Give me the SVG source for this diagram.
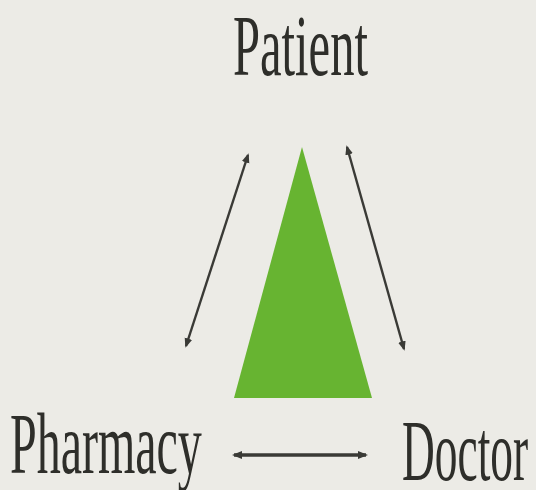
<svg xmlns="http://www.w3.org/2000/svg" width="536" height="490" viewBox="0 0 536 490">
<defs>
<style>
.lbl{font-family:"Liberation Serif","Times New Roman",serif;font-size:86px;fill:#2e2e2a}
.con{stroke:#3a3a36;stroke-width:2.4;fill:none;marker-start:url(#ah);marker-end:url(#ah)}
.thick{stroke-width:3.4;marker-start:url(#ah2);marker-end:url(#ah2)}
</style>
<marker id="ah" viewBox="0 0 10 10" refX="8" refY="5" markerWidth="4" markerHeight="4" orient="auto-start-reverse" markerUnits="strokeWidth">
<path d="M0,1 L10,5 L0,9 Z" fill="#3a3a36"/>
</marker>
<marker id="ah2" viewBox="0 0 10 10" refX="8" refY="5" markerWidth="3" markerHeight="3" orient="auto-start-reverse" markerUnits="strokeWidth">
<path d="M0,1 L10,5 L0,9 Z" fill="#3a3a36"/>
</marker>
</defs>
<rect width="536" height="490" fill="#ecebe6"/>
<g id="triangle"><polygon points="302,147 234,398 372,398" fill="#67b431"/></g>
<g id="patient"><text class="lbl" transform="translate(233,75) scale(0.565,1)">Patient</text></g>
<g id="pharmacy"><text class="lbl" transform="translate(10,473) scale(0.558,1)">Pharmacy</text></g>
<g id="doctor"><text class="lbl" transform="translate(402,480) scale(0.528,1)">Doctor</text></g>
<g id="connectors">
<line class="con" x1="186" y1="346" x2="248" y2="155"/>
<line class="con" x1="347" y1="147" x2="404" y2="349"/>
<line class="con thick" x1="234" y1="455" x2="366" y2="455"/>
</g>
</svg>
